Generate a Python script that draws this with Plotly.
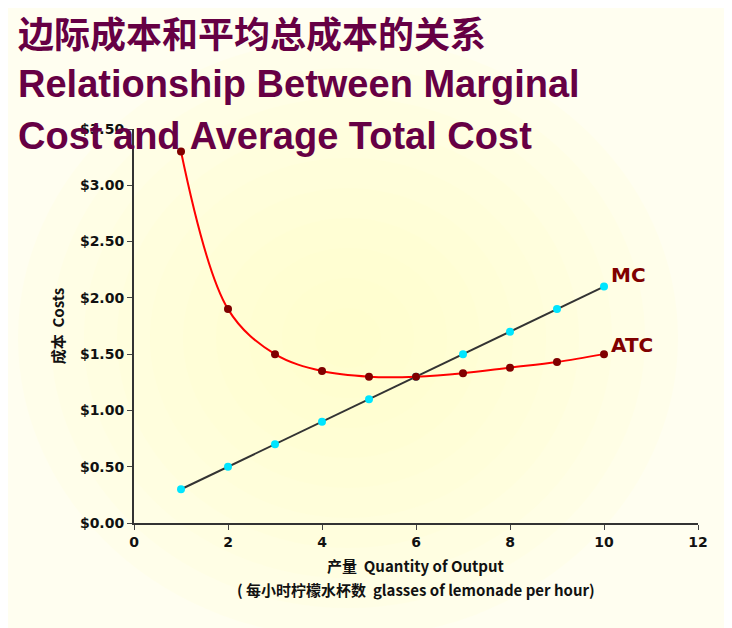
import plotly.graph_objects as go

quantity = [1, 2, 3, 4, 5, 6, 7, 8, 9, 10]
atc = [3.30, 1.90, 1.50, 1.35, 1.30, 1.30, 1.33, 1.38, 1.43, 1.50]
mc = [0.30, 0.50, 0.70, 0.90, 1.10, 1.30, 1.50, 1.70, 1.90, 2.10]
y_ticks = [0, 0.5, 1.0, 1.5, 2.0, 2.5, 3.0, 3.5]
y_labels = ["$%.2f" % v for v in y_ticks]

W, H = 732, 628
L, R, T, B = 126, 42, 121, 113
pw, ph = W - L - R, H - T - B


def px(x):
    return (x - L) / pw


def py(y):
    return (H - B - y) / ph


fig = go.Figure()
fig.add_trace(go.Scatter(x=quantity, y=mc, mode="lines+markers",
                         line=dict(color="#333333", width=2),
                         marker=dict(color="#00e5ff", size=8), name="MC"))
fig.add_trace(go.Scatter(x=quantity, y=atc, mode="lines+markers",
                         line=dict(color="#ff0000", width=2, shape="spline", smoothing=1.0),
                         marker=dict(color="#800000", size=8), name="ATC"))

# soft radial glow behind the chart
shapes = []
for i in range(10):
    f = i / 10
    cx, cy, rx, ry = 340, 330, 330 * (1 - f), 300 * (1 - f)
    shapes.append(dict(type="circle", xref="paper", yref="paper", layer="below",
                       x0=px(cx - rx), x1=px(cx + rx), y0=py(cy + ry), y1=py(cy - ry),
                       fillcolor="rgba(255,252,200,0.12)", line=dict(width=0)))
shapes.append(dict(type="rect", xref="paper", yref="paper", x0=-1, x1=2,
                   y0=py(640), y1=py(621), fillcolor="#333333", line=dict(width=0)))
fig.update_layout(shapes=shapes)

font = "DejaVu Sans"
title_col = "#660044"
fig.add_annotation(x=px(8), y=py(24), xref="paper", yref="paper",
                   text="<b>边际成本和平均总成本的关系</b>", showarrow=False,
                   xanchor="left", yanchor="middle",
                   font=dict(family="Noto Sans CJK SC", size=36, color=title_col))
for txt, ypx in [("Relationship Between Marginal", 76), ("Cost and Average Total Cost", 128)]:
    fig.add_annotation(x=px(8), y=py(ypx), xref="paper", yref="paper",
                       text="<b>%s</b>" % txt, showarrow=False,
                       xanchor="left", yanchor="middle",
                       font=dict(family="Liberation Sans", size=38, color=title_col))

fig.add_annotation(x=10.1, y=2.2, text="<b>MC</b>", showarrow=False, xanchor="left",
                   font=dict(family=font, size=20, color="#800000"))
fig.add_annotation(x=10.1, y=1.58, text="<b>ATC</b>", showarrow=False, xanchor="left",
                   font=dict(family=font, size=20, color="#800000"))
fig.add_annotation(x=0.5, y=py(570), xref="paper", yref="paper",
                   text="<b>产量  Quantity of Output</b>", showarrow=False,
                   font=dict(family="Noto Sans CJK SC", size=15, color="#111111"))
fig.add_annotation(x=0.5, y=py(594), xref="paper", yref="paper",
                   text="<b>( 每小时柠檬水杯数  glasses of lemonade per hour)</b>", showarrow=False,
                   font=dict(family="Noto Sans CJK SC", size=15, color="#111111"))

fig.update_layout(
    width=W, height=H, margin=dict(l=L, r=R, t=T, b=B, autoexpand=False),
    paper_bgcolor="#fffef0", plot_bgcolor="rgba(0,0,0,0)", showlegend=False,
    xaxis=dict(range=[0, 12], tickvals=list(range(0, 13, 2)),
               ticktext=["<b>%d</b>" % v for v in range(0, 13, 2)],
               showgrid=False, zeroline=False, showline=True, automargin=False,
               linecolor="#333333", linewidth=2, ticks="outside", ticklen=5,
               tickfont=dict(family=font, size=14, color="#111111")),
    yaxis=dict(range=[0, 3.5], tickvals=y_ticks, ticktext=["<b>%s</b>" % s for s in y_labels],
               showgrid=False, zeroline=False, showline=True, automargin=False,
               linecolor="#333333", linewidth=2,
               ticks="outside", ticklen=5, tickfont=dict(family=font, size=14, color="#111111"),
               title=dict(text="<b>成本  Costs</b>", standoff=12,
                          font=dict(family="Noto Sans CJK SC", size=15, color="#111111"))),
)
fig.write_html("out.html")
